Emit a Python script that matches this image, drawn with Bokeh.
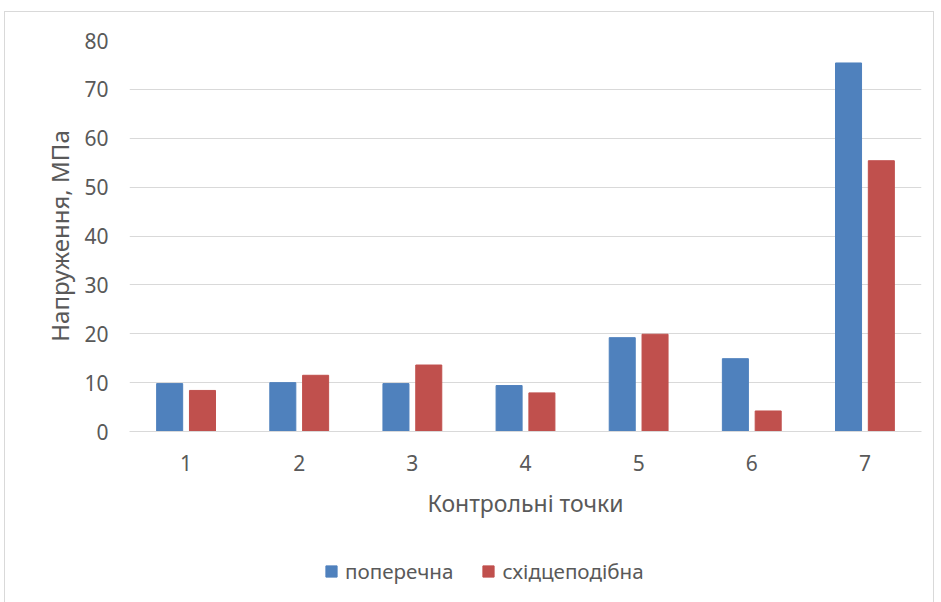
from bokeh.plotting import figure
from bokeh.layouts import column
from bokeh.models import ColumnDataSource, FactorRange, Range1d, FixedTicker, Legend, LegendItem
from bokeh.transform import dodge
from bokeh.embed import file_html
from bokeh.resources import INLINE

categories = ["1", "2", "3", "4", "5", "6", "7"]
poperechna = [9.8, 10.0, 9.8, 9.4, 19.2, 14.9, 75.4]
skhidtsepodibna = [8.4, 11.5, 13.6, 7.9, 19.9, 4.2, 55.4]
y_ticks = [0, 10, 20, 30, 40, 50, 60, 70, 80]
series_names = ["поперечна", "східцеподібна"]
colors = ["#4F81BD", "#C0504D"]

source = ColumnDataSource(dict(cat=categories, a=poperechna, b=skhidtsepodibna))

p = figure(width=928, height=520, x_range=FactorRange(*categories), y_range=Range1d(0, 80),
           output_backend="svg", toolbar_location=None,
           min_border_left=124, min_border_right=12, min_border_top=28, min_border_bottom=101)

r1 = p.vbar(x=dodge("cat", -0.145, range=p.x_range), top="a", width=0.23, source=source,
            fill_color=colors[0], line_color=colors[0])
r2 = p.vbar(x=dodge("cat", 0.145, range=p.x_range), top="b", width=0.23, source=source,
            fill_color=colors[1], line_color=colors[1])

p.outline_line_color = None
p.xgrid.grid_line_color = None
p.ygrid.grid_line_color = "#D9D9D9"
p.ygrid.grid_line_width = 1
p.yaxis.ticker = FixedTicker(ticks=y_ticks)
p.yaxis.axis_line_color = None
p.yaxis.major_tick_line_color = None
p.yaxis.minor_tick_line_color = None
p.xaxis.axis_line_color = "#D9D9D9"
p.xaxis.major_tick_line_color = None
p.xaxis.minor_tick_line_color = None

for ax in (p.xaxis, p.yaxis):
    ax.major_label_text_font = "Noto Sans"
    ax.major_label_text_font_size = "21px"
    ax.major_label_text_color = "#595959"
    ax.axis_label_text_font = "Noto Sans"
    ax.axis_label_text_font_style = "normal"
    ax.axis_label_text_color = "#595959"

p.xaxis.axis_label_text_font_size = "23px"
p.yaxis.axis_label_text_font_size = "24px"
p.xaxis.axis_label = "Контрольні точки"
p.yaxis.axis_label = "Напруження, МПа"
p.xaxis.major_label_standoff = 17
p.yaxis.major_label_standoff = 15
p.xaxis.axis_label_standoff = 13
p.yaxis.axis_label_standoff = 5

# legend strip (its frame is aligned with the chart's frame by the column layout)
lf = figure(width=928, height=72, x_range=(0, 1), y_range=(0, 1),
            output_backend="svg", toolbar_location=None,
            x_axis_location=None, y_axis_location=None,
            min_border_left=0, min_border_right=0, min_border_top=0, min_border_bottom=0)
lf.grid.visible = False
lf.outline_line_color = None
offscreen = ColumnDataSource(dict(x=[-10], top=[-10]))
d1 = lf.vbar(x="x", top="top", width=0.1, source=offscreen, fill_color=colors[0], line_color=colors[0])
d2 = lf.vbar(x="x", top="top", width=0.1, source=offscreen, fill_color=colors[1], line_color=colors[1])
legend = Legend(items=[LegendItem(label=series_names[0], renderers=[d1]),
                       LegendItem(label=series_names[1], renderers=[d2])],
                orientation="horizontal", location=(195, 19),
                label_text_font="Noto Sans", label_text_font_size="20.6px", label_text_color="#595959",
                glyph_width=14, glyph_height=14, spacing=28, label_standoff=7,
                border_line_color=None, background_fill_alpha=0, padding=0, margin=0)
lf.add_layout(legend, "center")

layout = column(p, lf, spacing=0)
layout.styles = {"border": "1.5px solid #D9D9D9", "margin-left": "4px", "margin-top": "11px"}

open("out.html", "w").write(file_html(layout, INLINE))
